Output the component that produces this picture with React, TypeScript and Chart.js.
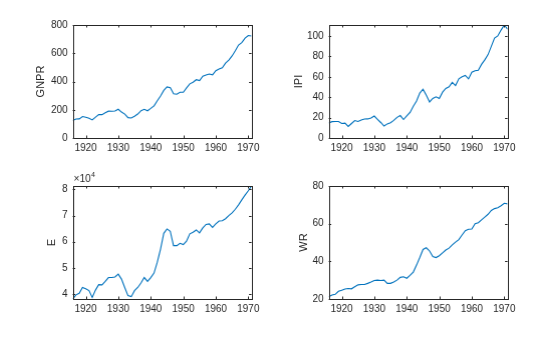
import React, { useEffect, useRef } from "react";
import { Chart, registerables } from "chart.js";

Chart.register(...registerables);

// ---- data (annual, 1915–1970; plotted at the end of each year) ----
const years = [
  1915, 1916, 1917, 1918, 1919, 1920, 1921, 1922, 1923, 1924, 1925, 1926, 1927, 1928,
  1929, 1930, 1931, 1932, 1933, 1934, 1935, 1936, 1937, 1938, 1939, 1940, 1941, 1942,
  1943, 1944, 1945, 1946, 1947, 1948, 1949, 1950, 1951, 1952, 1953, 1954, 1955, 1956,
  1957, 1958, 1959, 1960, 1961, 1962, 1963, 1964, 1965, 1966, 1967, 1968, 1969, 1970,
];

const gnpr = [
  124.5, 134.3, 135.2, 151.8, 146.4, 140.0, 127.8, 148.0, 165.9, 165.5, 179.4, 190.0, 189.8, 190.9,
  203.6, 183.5, 169.3, 144.2, 141.5, 154.3, 169.5, 193.0, 203.2, 192.9, 209.4, 227.2, 263.7, 297.8,
  337.1, 361.3, 355.2, 312.6, 309.9, 323.7, 324.1, 355.3, 383.4, 395.1, 412.8, 407.0, 438.0, 446.1,
  452.5, 447.3, 475.9, 487.7, 497.2, 529.8, 551.0, 581.1, 617.8, 658.1, 675.2, 706.6, 725.6, 722.5,
];

const ipi = [
  14.6, 16.0, 16.2, 16.1, 14.2, 14.6, 11.3, 14.2, 17.1, 16.2, 17.6, 18.6, 18.7, 19.6,
  21.5, 18.3, 15.2, 11.7, 13.8, 15.0, 17.2, 20.2, 22.0, 18.1, 21.6, 25.0, 31.2, 36.2,
  44.0, 47.8, 41.8, 35.3, 38.7, 40.3, 38.6, 44.9, 48.5, 50.1, 54.5, 51.4, 58.0, 60.0,
  61.3, 57.9, 64.4, 65.9, 66.4, 72.1, 76.5, 81.7, 89.8, 97.8, 100.0, 105.7, 110.7, 106.6,
];

const emp = [
  38100, 39700, 40300, 42500, 42000, 41300, 38700, 41500, 43600, 43500, 44800, 46300, 46300, 46500,
  47600, 45700, 42500, 39400, 39000, 41300, 42500, 44200, 46300, 44800, 46300, 48000, 52100, 57200,
  63200, 64900, 64000, 58500, 58500, 59400, 58900, 60200, 63000, 63600, 64500, 63400, 65300, 66600,
  66800, 65500, 66800, 67900, 68000, 68800, 70000, 71000, 72400, 74100, 76000, 77800, 79500, 81300,
];

const wr = [
  21.2, 22.1, 22.5, 24.1, 24.7, 25.3, 25.6, 25.4, 26.5, 27.5, 27.7, 27.7, 28.3, 29.0,
  29.8, 30.0, 29.8, 30.0, 28.3, 28.3, 29.0, 30.0, 31.5, 31.8, 31.0, 32.5, 34.3, 38.0,
  42.0, 46.3, 47.2, 45.5, 42.5, 42.0, 43.0, 44.5, 46.0, 47.0, 48.7, 50.2, 51.5, 54.0,
  56.3, 57.0, 57.2, 60.0, 60.5, 62.0, 63.5, 65.0, 67.0, 68.0, 68.5, 69.5, 70.8, 70.5,
];

const xTicks = [1920, 1930, 1940, 1950, 1960, 1970];
const gnprTicks = [0, 200, 400, 600, 800];
const ipiTicks = [0, 20, 40, 60, 80, 100];
const empTicks = [40000, 50000, 60000, 70000, 80000];
const wrTicks = [20, 40, 60, 80];

// observations are dated at the end of each year
const dateOf = (y: number) => y + 1;

// ---- layout ----
const PW = 178;
const PH = 113;
const PAD_TOP = 15;
const PAD_R = 22;
const XH = 24;
const TEXT = "#262626";
const LINE = "#0072BD";
const FONT = "'Liberation Sans', Arial, sans-serif";

type PanelCfg = {
  label: string;
  data: number[];
  yTicks: number[];
  yMin: number;
  yMax: number;
  left: number;
  top: number;
  titleGap: number;
  divisor?: number;
};

const panels: PanelCfg[] = [
  { label: "GNPR", data: gnpr, yTicks: gnprTicks, yMin: 0, yMax: 800, left: 73, top: 25, titleGap: 32 },
  { label: "IPI", data: ipi, yTicks: ipiTicks, yMin: 0, yMax: Math.max(...ipi), left: 329, top: 25, titleGap: 30 },
  { label: "E", data: emp, yTicks: empTicks, yMin: Math.min(...emp), yMax: Math.max(...emp), left: 73, top: 186, titleGap: 21, divisor: 10000 },
  { label: "WR", data: wr, yTicks: wrTicks, yMin: 20, yMax: 80, left: 329, top: 186, titleGap: 25 },
];

const boxPlugin = {
  id: "matlabBox",
  afterDraw(chart: any, _args: any, opts: any) {
    const { ctx, chartArea } = chart;
    const { left, top, right, bottom } = chartArea;
    const xs = chart.scales.x;
    const ys = chart.scales.y;
    ctx.save();
    ctx.strokeStyle = TEXT;
    ctx.lineWidth = 1;
    ctx.strokeRect(Math.round(left) + 0.5, Math.round(top) + 0.5, Math.round(right - left), Math.round(bottom - top));
    const tl = 2.5;
    ctx.beginPath();
    for (const t of xs.ticks) {
      const px = Math.round(xs.getPixelForValue(t.value)) + 0.5;
      ctx.moveTo(px, bottom);
      ctx.lineTo(px, bottom - tl);
      ctx.moveTo(px, top);
      ctx.lineTo(px, top + tl);
    }
    for (const t of ys.ticks) {
      const py = Math.round(ys.getPixelForValue(t.value)) + 0.5;
      ctx.moveTo(left, py);
      ctx.lineTo(left + tl, py);
      ctx.moveTo(right, py);
      ctx.lineTo(right - tl, py);
    }
    ctx.stroke();
    if (opts && opts.exponent) {
      ctx.fillStyle = TEXT;
      ctx.textBaseline = "alphabetic";
      ctx.textAlign = "left";
      ctx.font = `10px ${FONT}`;
      const base = "\u00d710";
      ctx.fillText(base, left + 1, top - 4);
      const w = ctx.measureText(base).width;
      ctx.font = `7px ${FONT}`;
      ctx.fillText(opts.exponent, left + 1 + w + 0.5, top - 9);
    }
    ctx.restore();
  },
};

function Panel({ cfg }: { cfg: PanelCfg }) {
  const ref = useRef<HTMLCanvasElement>(null);
  const titleLine = 13.2;
  const yw = cfg.titleGap + titleLine / 2;

  useEffect(() => {
    if (!ref.current) return;
    const div = cfg.divisor || 1;
    const chart = new Chart(ref.current, {
      type: "line",
      data: {
        datasets: [
          {
            data: years.map((y, i) => ({ x: dateOf(y), y: cfg.data[i] })),
            borderColor: LINE,
            borderWidth: 1.1,
            pointRadius: 0,
            tension: 0,
            fill: false,
          },
        ],
      },
      plugins: [boxPlugin],
      options: {
        animation: false,
        responsive: true,
        maintainAspectRatio: false,
        layout: { padding: { top: PAD_TOP, right: PAD_R, left: 0, bottom: 0 } },
        plugins: {
          legend: { display: false },
          tooltip: { enabled: false },
          matlabBox: { exponent: cfg.divisor ? "4" : "" },
        } as any,
        scales: {
          x: {
            type: "linear",
            min: dateOf(years[0]),
            max: dateOf(years[years.length - 1]),
            grid: { display: false, drawTicks: false },
            border: { display: false },
            afterBuildTicks: (s: any) => {
              s.ticks = xTicks.map((v) => ({ value: v }));
            },
            afterFit: (s: any) => {
              s.height = XH;
            },
            ticks: {
              color: TEXT,
              font: { family: FONT, size: 10 },
              padding: 4,
              maxRotation: 0,
              autoSkip: false,
              callback: (v: any) => String(v),
            },
          },
          y: {
            type: "linear",
            min: cfg.yMin,
            max: cfg.yMax,
            grid: { display: false, drawTicks: false },
            border: { display: false },
            afterBuildTicks: (s: any) => {
              s.ticks = cfg.yTicks.map((v) => ({ value: v }));
            },
            afterFit: (s: any) => {
              s.width = yw;
            },
            ticks: {
              color: TEXT,
              font: { family: FONT, size: 10 },
              padding: 5,
              autoSkip: false,
              callback: (v: any) => String(Math.round((v / div) * 1000) / 1000),
            },
            title: {
              display: true,
              text: cfg.label,
              color: TEXT,
              font: { family: FONT, size: 11, lineHeight: 1.2 },
              padding: { top: 0, bottom: 0 },
            },
          },
        },
      } as any,
    });
    return () => chart.destroy();
  }, []);

  return (
    <div
      style={{
        position: "absolute",
        left: cfg.left - yw,
        top: cfg.top - PAD_TOP,
        width: yw + PW + PAD_R,
        height: PAD_TOP + PH + XH,
      }}
    >
      <canvas ref={ref} />
    </div>
  );
}

export default function App() {
  return (
    <div style={{ position: "fixed", left: 0, top: 0, width: 560, height: 337, background: "#fff" }}>
      {panels.map((p) => (
        <Panel key={p.label} cfg={p} />
      ))}
    </div>
  );
}
